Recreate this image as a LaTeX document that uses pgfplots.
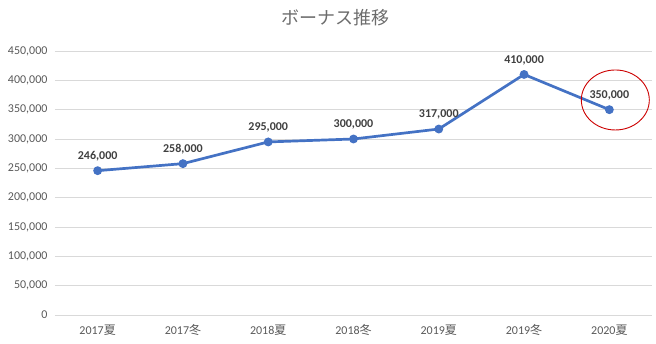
\documentclass[border=0pt]{standalone}
\usepackage{fontspec}
\setmainfont{Carlito}
\newfontfamily\cjk{Noto Sans CJK JP}
\usepackage{pgfplots}
\pgfplotsset{compat=1.18}
\definecolor{lineblue}{HTML}{4472C4}
\definecolor{ticktxt}{HTML}{595959}
\definecolor{gridc}{HTML}{D9D9D9}
\definecolor{lbl}{HTML}{404040}
\begin{document}
\begin{tikzpicture}
\path[use as bounding box] (-55pt,-29pt) rectangle (601pt,315pt);
\begin{axis}[
  at={(0pt,0pt)}, anchor=south west,
  scale only axis, width=597pt, height=264pt,
  xmin=-0.5, xmax=6.5, ymin=0, ymax=450000,
  xtick={0,1,2,3,4,5,6},
  xticklabels={2017{\cjk 夏},2017{\cjk 冬},2018{\cjk 夏},2018{\cjk 冬},2019{\cjk 夏},2019{\cjk 冬},2020{\cjk 夏}},
  ytick={0,50000,...,450000},
  scaled y ticks=false,
  /pgf/number format/.cd, fixed, precision=0, set thousands separator={,}, assume math mode=true,
  /pgfplots/.cd,
  axis line style={draw=none},
  major tick length=0pt,
  ymajorgrids, grid style={gridc, line width=0.9pt},
  tick label style={font=\fontsize{12}{13}\selectfont, text=ticktxt},
  yticklabel style={xshift=-4pt},
  xticklabel style={yshift=-6pt},
  nodes near coords,
  nodes near coords style={font=\fontsize{12}{13}\selectfont\bfseries, text=lbl, yshift=5pt},
  clip=false,
]
\addplot[lineblue, line width=2.7pt, mark=*, mark size=3pt, mark options={fill=lineblue, draw=lineblue}]
  coordinates {(0,246000) (1,258000) (2,295000) (3,300000) (4,317000) (5,410000) (6,350000)};
\draw[red!80!black, line width=0.9pt] (axis cs:6.07,366500) ellipse [x radius=34pt, y radius=30pt];
\end{axis}
\node[text=gray!85!black, font=\cjk\fontsize{18}{19}\selectfont] at (280pt,297pt) {ボーナス推移};
\end{tikzpicture}
\end{document}
